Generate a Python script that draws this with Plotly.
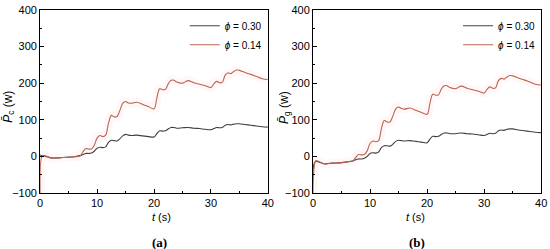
import plotly.graph_objects as go
from plotly.subplots import make_subplots

# time samples (s), shared by all four curves
t = [0, 0.2, 0.5, 1, 2, 3, 4, 5, 6, 7, 7.5, 8, 8.5, 9, 9.5, 10, 10.5, 11, 11.5, 12,
     12.5, 13, 13.5, 14, 14.5, 15, 15.5, 16, 17, 18, 19, 20, 20.5, 21, 21.5, 22,
     22.5, 23, 23.5, 24, 25, 26, 27, 28, 29, 30, 30.5, 31, 31.5, 32, 32.5, 33,
     33.5, 34, 34.5, 35, 36, 37, 38, 39, 40]

# panel (a): P_c
pc_030 = [5, 2, 2, 0, -4, -4, -3, -2, -1, 2, 5, 8, 8, 9, 14, 22, 25, 24, 26, 38,
          44, 43, 42, 48, 56, 60, 58, 57, 58, 56, 54, 53, 62, 70, 69, 70,
          75, 79, 79, 77, 78, 79, 77, 76, 74, 73, 76, 79, 78, 79, 85, 87,
          86, 88, 89, 89, 87, 85, 83, 81, 80]
pc_014 = [-100, -5, 3, 1, -5, -4, -3, -3, -1, 1, 12, 21, 20, 20, 30, 50, 57, 54, 58, 90,
          112, 108, 109, 125, 145, 150, 146, 145, 148, 142, 136, 130, 160, 185, 182, 183,
          198, 208, 208, 203, 200, 207, 201, 197, 193, 188, 198, 205, 201, 202, 222, 228,
          226, 232, 236, 235, 229, 224, 218, 212, 210]

# panel (b): P_g
pg_030 = [-40, -20, -14, -15, -20, -19, -18, -17, -15, -12, -9, -7, -7, -5, 0, 8, 10, 9, 12, 24,
          29, 29, 28, 33, 41, 44, 43, 42, 43, 41, 39, 37, 47, 55, 54, 55,
          60, 64, 64, 62, 62, 64, 62, 61, 59, 57, 60, 63, 62, 63, 70, 72,
          71, 74, 75, 75, 72, 70, 68, 66, 65]
pg_014 = [-100, -30, -12, -14, -21, -19, -18, -17, -15, -13, -3, 5, 4, 5, 15, 35, 42, 40, 43, 76,
          98, 94, 94, 110, 130, 135, 131, 129, 132, 126, 120, 115, 145, 170, 167, 168,
          184, 193, 193, 188, 185, 192, 186, 182, 178, 173, 183, 190, 186, 187, 207, 213,
          211, 217, 221, 220, 214, 209, 203, 197, 195]

series_labels = ["<i>ϕ</i> = 0.30", "<i>ϕ</i> = 0.14"]
y_titles = ["<i>P\u0304</i><sub>c</sub> (w)", "<i>P\u0304</i><sub>g</sub> (w)"]
x_title = "<i>t</i> (s)"
panel_tags = ["(a)", "(b)"]

FONT = "Liberation Sans, Arial, sans-serif"
BLACK = "#404040"
RED = "#b86650"

fig = make_subplots(rows=1, cols=2)

panels = [(pc_030, pc_014), (pg_030, pg_014)]
for i, (low, high) in enumerate(panels):
    col = i + 1
    legend_name = "legend" if i == 0 else "legend2"
    # faint pink halo around the red curve
    fig.add_trace(go.Scatter(x=t, y=high, mode="lines", line=dict(color="rgba(255,175,190,0.1)", width=9, shape="spline"),
                             showlegend=False, hoverinfo="skip"), row=1, col=col)
    fig.add_trace(go.Scatter(x=t, y=low, mode="lines", name=series_labels[0],
                             line=dict(color=BLACK, width=1.1, shape="spline"), legend=legend_name), row=1, col=col)
    fig.add_trace(go.Scatter(x=t, y=high, mode="lines", name=series_labels[1],
                             line=dict(color=RED, width=1.1, shape="spline"), legend=legend_name), row=1, col=col)

axis_style = dict(
    showline=True, linecolor="black", linewidth=1, mirror=True, automargin=False,
    ticks="inside", ticklen=4, tickcolor="black", showgrid=False, zeroline=False,
    tickfont=dict(family=FONT, size=11, color="black"),
)

fig.update_xaxes(range=[0, 40], dtick=10, minor=dict(dtick=5, ticks="inside", ticklen=2, tickcolor="black"),
                 **axis_style)
fig.update_yaxes(range=[-100, 400], dtick=100, minor=dict(dtick=50, ticks="inside", ticklen=2, tickcolor="black"),
                 **axis_style)

fig.update_xaxes(domain=[0.073, 0.487], row=1, col=1)
fig.update_xaxes(domain=[0.569, 0.984], row=1, col=2)
fig.update_yaxes(domain=[0.225, 0.96])

legend_style = dict(bgcolor="rgba(0,0,0,0)", font=dict(family=FONT, size=10, color="black"),
                    xanchor="right", yanchor="top", y=0.955, itemwidth=30, tracegroupgap=0)

# axis titles and panel tags as paper annotations (margins are zero)
title_font = dict(family=FONT, size=11, color="black")
ytitle_font = dict(family=FONT, size=12, color="black")
tag_font = dict(family="Liberation Serif, serif", size=13, color="black")
annotations = []
for x_mid, y_tx, x_tag, y_lab, tag in [(0.273, 0.016, 0.273, y_titles[0], panel_tags[0]),
                                       (0.776, 0.518, 0.777, y_titles[1], panel_tags[1])]:
    annotations.append(dict(text=x_title, x=x_mid, y=0.128, xref="paper", yref="paper", showarrow=False,
                            yanchor="middle", font=title_font))
    annotations.append(dict(text=y_lab, x=y_tx, y=0.57, xref="paper", yref="paper", showarrow=False,
                            textangle=-90, xanchor="center", yanchor="middle", font=ytitle_font))
    annotations.append(dict(text=f"<b>{tag}</b>", x=x_tag, y=0.025, xref="paper", yref="paper", showarrow=False,
                            yanchor="middle", font=tag_font))

fig.update_layout(
    width=550, height=249,
    margin=dict(l=0, r=0, t=0, b=0),
    paper_bgcolor="white", plot_bgcolor="white",
    legend=dict(x=0.485, **legend_style),
    legend2=dict(x=0.982, **legend_style),
    annotations=annotations,
)

# drop the default page margin so the 550x249 figure sits at the window origin
fig.write_html("out.html", config={"displayModeBar": False},
               post_script="document.body.style.margin='0';")
